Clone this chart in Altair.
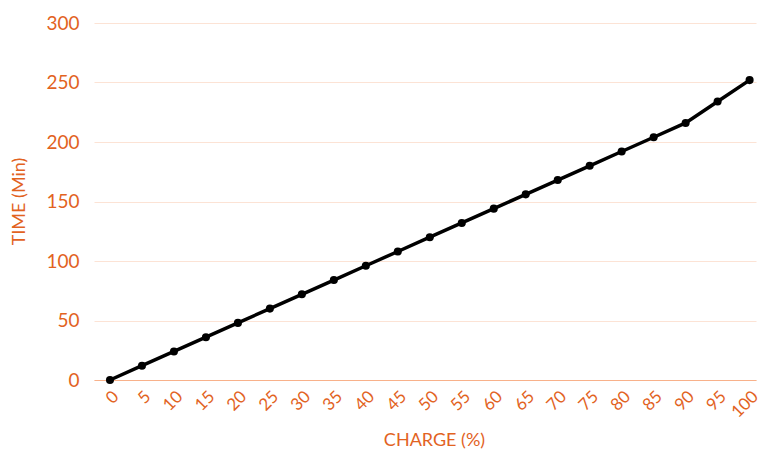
import altair as alt
import pandas as pd

charge = [0, 5, 10, 15, 20, 25, 30, 35, 40, 45, 50, 55, 60, 65, 70, 75, 80, 85, 90, 95, 100]
time_min = [0, 12, 24, 36, 48, 60, 72, 84, 96, 108, 120, 132, 144, 156, 168, 180, 192, 204, 216, 234, 252]
y_ticks = [0, 50, 100, 150, 200, 250, 300]

df = pd.DataFrame({"charge": charge, "time": time_min})

ORANGE = "#E2631F"
FONT = "Lato"

base = alt.Chart(df).encode(
    x=alt.X(
        "charge:Q",
        scale=alt.Scale(domain=[-2.5, 101.0], nice=False, zero=False),
        axis=alt.Axis(
            values=charge,
            title="CHARGE (%)",
            labelAngle=-45,
            labelOverlap=False,
            labelColor=ORANGE,
            labelFont=FONT,
            labelFontSize=17,
            labelPadding=8,
            ticks=False,
            grid=False,
            domain=True,
            domainColor="#F8B18A",
            domainWidth=1,
            titleColor=ORANGE,
            titleFont=FONT,
            titleFontSize=18,
            titleFontWeight="normal",
            titleX=340,
            titleY=60,
            titleBaseline="middle",
            titleAlign="center",
        ),
    ),
    y=alt.Y(
        "time:Q",
        scale=alt.Scale(domain=[0, 300], nice=False),
        axis=alt.Axis(
            values=y_ticks,
            title="TIME (Min)",
            labelColor=ORANGE,
            labelFont=FONT,
            labelFontSize=19,
            labelPadding=15,
            ticks=False,
            domain=False,
            grid=True,
            gridColor="#FCE3D5",
            gridWidth=1,
            titleColor=ORANGE,
            titleFont=FONT,
            titleFontSize=18,
            titleFontWeight="normal",
            titleX=-75,
            titleY=178,
            titleAngle=-90,
            titleBaseline="middle",
            titleAlign="center",
        ),
    ),
)

line = base.mark_line(color="black", strokeWidth=3.5)
pts = base.mark_circle(color="black", size=65, opacity=1)

chart = (line + pts).properties(
    width=662,
    height=357,
    padding={"left": 86, "top": 15, "right": 5, "bottom": 69},
    autosize=alt.AutoSizeParams(type="none"),
).configure_view(stroke=None)

chart.save("out.html", embed_options={"renderer": "svg", "actions": False})
